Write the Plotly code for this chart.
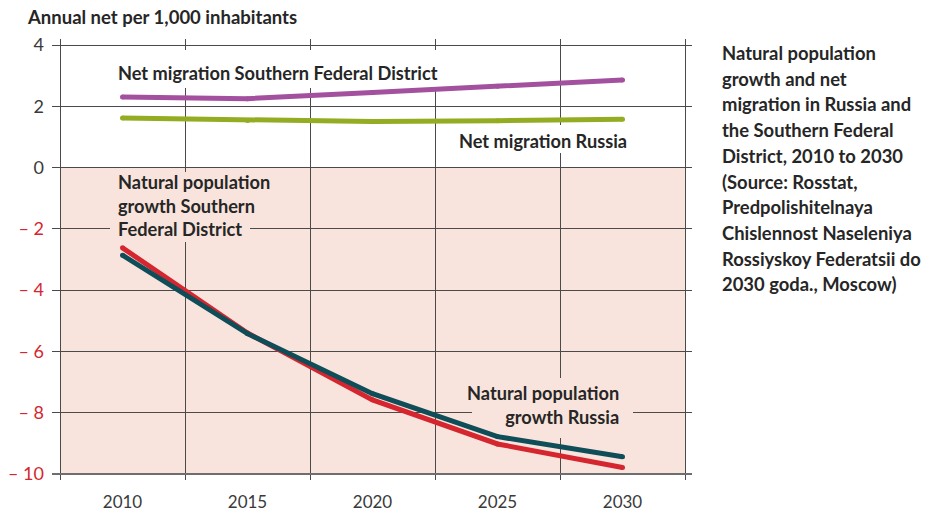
import plotly.graph_objects as go

# Data (per 1,000 inhabitants)
years = [2010, 2015, 2020, 2025, 2030]
net_mig_sfd = [2.30, 2.25, 2.45, 2.65, 2.86]
net_mig_russia = [1.62, 1.54, 1.50, 1.53, 1.58]
nat_growth_sfd = [-2.62, -5.40, -7.58, -9.02, -9.79]
nat_growth_russia = [-2.86, -5.42, -7.38, -8.78, -9.44]

y_ticks = [4, 2, 0, -2, -4, -6, -8, -10]
x_ticks = [2010, 2015, 2020, 2025, 2030]
x_grid = [2007.5, 2012.5, 2017.5, 2022.5, 2027.5, 2032.5]

PURPLE = "#a3509f"
GREEN = "#93ad22"
RED = "#d5262f"
TEAL = "#0f4d58"
PINK = "#f8e4dc"
GRID = "#4a4a4a"
TEXT = "#262626"
FONT = "Lato"

W, H = 938, 513
ML, MR, MT, MB = 52, 246, 39, 33
X_RANGE = [2007.18, 2032.78]
Y_RANGE = [-10.196, 4.196]
PLOT_W = W - ML - MR
PLOT_H = H - MT - MB


def px_x(px):
    return (px - ML) / PLOT_W


def px_y(py):
    return (H - MB - py) / PLOT_H


def data_x(px):
    return X_RANGE[0] + px_x(px) * (X_RANGE[1] - X_RANGE[0])


def data_y(py):
    return Y_RANGE[0] + px_y(py) * (Y_RANGE[1] - Y_RANGE[0])


def ytick_label(v):
    if v < 0:
        return f"<span style='color:{RED}'>\u2013 {abs(v)}</span>"
    return str(v)


fig = go.Figure()

series = [
    (net_mig_sfd, PURPLE),
    (net_mig_russia, GREEN),
    (nat_growth_sfd, RED),
    (nat_growth_russia, TEAL),
]
for vals, col in series:
    fig.add_trace(go.Scatter(
        x=years, y=vals, mode="lines+markers",
        line=dict(color=col, width=5),
        marker=dict(color=col, size=5, line_width=0),
        hoverinfo="skip", showlegend=False,
    ))

# shaded negative region
fig.add_shape(type="rect", xref="x", yref="y",
              x0=2007.5, x1=2032.5, y0=-10, y1=0,
              fillcolor=PINK, line_width=0, layer="below")

# heavier baseline at -10
fig.add_shape(type="line", xref="x", yref="y",
              x0=X_RANGE[0], x1=X_RANGE[1], y0=-10, y1=-10,
              line=dict(color="#6e6e6e", width=2), layer="between")

# label backdrops that mask the grid (drawn beneath the lines)
backdrops = [
    ((112, 50), (444, 88), "white"),
    ((452, 125), (636, 153), "white"),
    ((110, 172), (250, 242), PINK),
    ((472, 378), (633, 438), PINK),
]
for (x0, y0), (x1, y1), col in backdrops:
    fig.add_shape(type="rect", xref="x", yref="y",
                  x0=data_x(x0), x1=data_x(x1), y0=data_y(y1), y1=data_y(y0),
                  fillcolor=col, line_width=0, layer="between")

label_font = dict(family=FONT, size=18.2, color=TEXT, weight="bold")

fig.add_annotation(x=px_x(114), y=px_y(73), xref="paper", yref="paper",
                   text="Net migration Southern Federal District",
                   showarrow=False, xanchor="left", yanchor="middle",
                   font=label_font, borderpad=3)
fig.add_annotation(x=px_x(631), y=px_y(141), xref="paper", yref="paper",
                   text="Net migration Russia",
                   showarrow=False, xanchor="right", yanchor="middle",
                   font=label_font, borderpad=3)
fig.add_annotation(x=px_x(112), y=px_y(205.5), xref="paper", yref="paper",
                   text="Natural population<br>growth Southern<br>Federal District",
                   showarrow=False, xanchor="left", yanchor="middle", align="left",
                   font=label_font, borderpad=5)
fig.add_annotation(x=px_x(625), y=px_y(404.5), xref="paper", yref="paper",
                   text="Natural population<br>growth Russia",
                   showarrow=False, xanchor="right", yanchor="middle", align="right",
                   font=label_font, borderpad=5)

# axis title
fig.add_annotation(x=px_x(25), y=px_y(17), xref="paper", yref="paper",
                   text="Annual net per 1,000 inhabitants", showarrow=False,
                   xanchor="left", yanchor="middle",
                   font=dict(family=FONT, size=18.5, color=TEXT, weight="bold"))

# side caption
caption = [
    "Natural population",
    "growth and net",
    "migration in Russia and",
    "the Southern Federal",
    "District, 2010 to 2030",
    "(Source: Rosstat,",
    "Predpolishitelnaya",
    "Chislennost Naseleniya",
    "Rossiyskoy Federatsii do",
    "2030 goda., Moscow)",
]
for i, line in enumerate(caption):
    fig.add_annotation(x=px_x(720), y=px_y(53 + i * 25.7), xref="paper", yref="paper",
                       text=line, showarrow=False, xanchor="left", yanchor="middle",
                       font=dict(family=FONT, size=18.4, color=TEXT, weight="bold"))

fig.update_layout(
    width=W, height=H,
    margin=dict(l=ML, r=MR, t=MT, b=MB, autoexpand=False),
    paper_bgcolor="white", plot_bgcolor="white",
    showlegend=False,
    xaxis=dict(
        range=X_RANGE,
        tickvals=x_ticks, ticktext=[str(v) for v in x_ticks],
        showgrid=False, zeroline=False, showline=False, ticks="",
        tickfont=dict(family=FONT, size=17, color="#3a3a3a"),
        ticklabelstandoff=10, automargin=False,
        minor=dict(tickvals=x_grid, showgrid=True, gridcolor=GRID, gridwidth=1),
    ),
    yaxis=dict(
        range=Y_RANGE,
        tickvals=y_ticks, ticktext=[ytick_label(v) for v in y_ticks],
        showgrid=True, gridcolor=GRID, gridwidth=1,
        zeroline=False, showline=False, ticks="",
        tickfont=dict(family=FONT, size=18, color="#3a3a3a"),
        ticklabelstandoff=7, automargin=False,
    ),
)

fig.write_html("out.html")
